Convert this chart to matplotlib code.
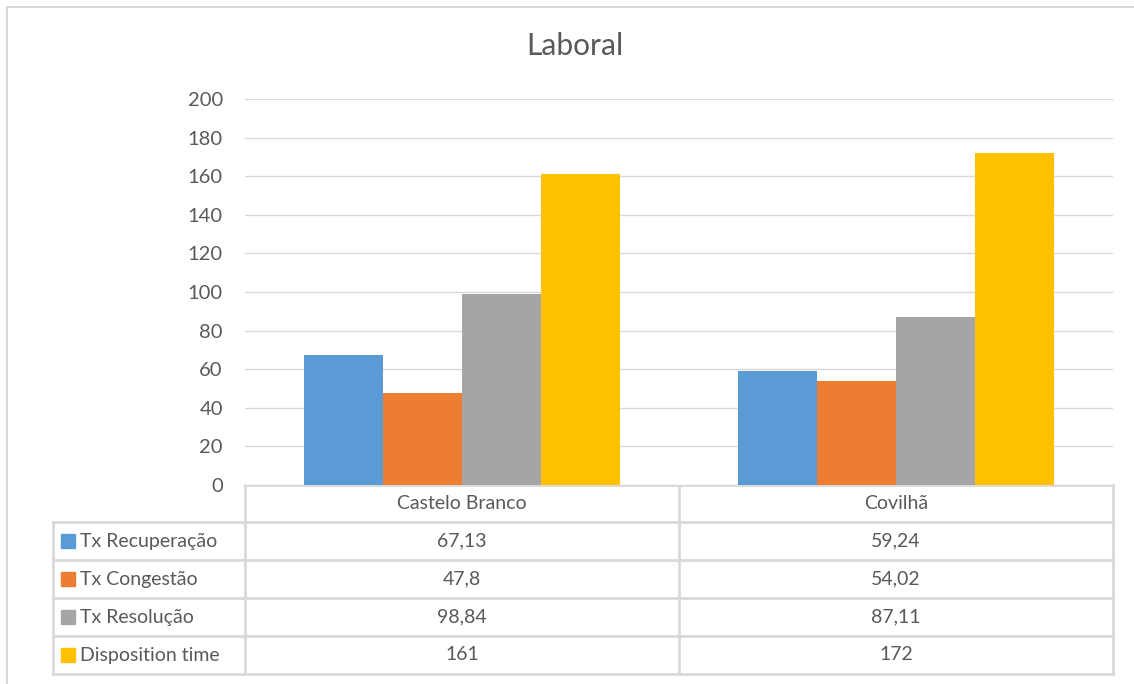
import matplotlib.pyplot as plt
import numpy as np

plt.rcParams['font.family'] = ['Lato', 'DejaVu Sans']

title = "Laboral"
categories = ["Castelo Branco", "Covilhã"]
series_names = ["Tx Recuperação", "Tx Congestão", "Tx Resolução", "Disposition time"]
tx_recuperacao = [67.13, 59.24]
tx_congestao = [47.8, 54.02]
tx_resolucao = [98.84, 87.11]
disposition_time = [161, 172]
table_labels = [["67,13", "59,24"], ["47,8", "54,02"], ["98,84", "87,11"], ["161", "172"]]
colors = ["#5b9bd5", "#ed7d31", "#a5a5a5", "#ffc000"]

W, H = 1134, 684
txt = "#595959"
grid = "#d9d9d9"

fig = plt.figure(figsize=(W / 100, H / 100), dpi=100)

# background axes in pixel coords for the frame and data table
bg = fig.add_axes([0, 0, 1, 1])
bg.set_xlim(0, W)
bg.set_ylim(H, 0)
bg.axis("off")
bg.plot([7, 7, W], [H, 7, 7], color=grid, lw=1.5)

# plot area
x0, x1, ytop, ybot = 245, 1113, 99, 485
ax = fig.add_axes([x0 / W, 1 - ybot / H, (x1 - x0) / W, (ybot - ytop) / H])
values = [tx_recuperacao, tx_congestao, tx_resolucao, disposition_time]
x = np.arange(len(categories))
bw = 0.182
for i, v in enumerate(values):
    ax.bar(x + (i - 1.5) * bw, v, bw, color=colors[i], zorder=3)
ax.set_xlim(-0.5, len(categories) - 0.5)
ax.set_ylim(0, 200)
ax.set_yticks(range(0, 201, 20))
ax.yaxis.grid(True, color=grid, lw=1)
ax.set_xticks([])
for s in ax.spines.values():
    s.set_visible(False)
ax.tick_params(axis="y", length=0, pad=16, labelsize=14.5, labelcolor=txt)

bg.text(575, 46, title, ha="center", va="center", fontsize=21.5, color=txt)

# data table
rows = [485, 522, 560, 598, 636, 674]
colx = [53, 245, 679, 1113]
lw = 2
fs = 14
bg.plot([colx[1], colx[3]], [rows[0], rows[0]], color=grid, lw=lw)
for r in rows[1:]:
    bg.plot([colx[0], colx[3]], [r, r], color=grid, lw=lw)
bg.plot([colx[0], colx[0]], [rows[1], rows[-1]], color=grid, lw=lw)
for c in colx[1:]:
    bg.plot([c, c], [rows[0], rows[-1]], color=grid, lw=lw)

for j, cat in enumerate(categories):
    cx = (colx[j + 1] + colx[j + 2]) / 2
    bg.text(cx, (rows[0] + rows[1]) / 2, cat, ha="center", va="center", fontsize=fs, color=txt)
for i, name in enumerate(series_names):
    cy = (rows[i + 1] + rows[i + 2]) / 2
    bg.add_patch(plt.Rectangle((61, cy - 7), 14, 14, color=colors[i]))
    bg.text(80, cy, name, ha="left", va="center", fontsize=fs, color=txt)
    for j in range(len(categories)):
        cx = (colx[j + 1] + colx[j + 2]) / 2
        bg.text(cx, cy, table_labels[i][j], ha="center", va="center", fontsize=fs, color=txt)

fig.savefig("out.png", dpi=100)
